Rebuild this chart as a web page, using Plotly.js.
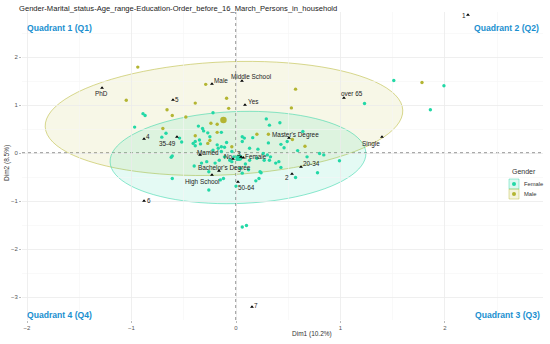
<!DOCTYPE html>
<html>
<head>
<meta charset="utf-8">
<script src="https://cdn.plot.ly/plotly-3.0.1.min.js"></script>
<style>html,body{margin:0;padding:0;background:#fff;}#chart{width:550px;height:344px;}</style>
</head>
<body>
<div id="chart"></div>
<script>
// ---- data ----
const titleText = "Gender-Marital_status-Age_range-Education-Order_before_16_March_Persons_in_household";
const groups = ["Female", "Male"];

const femaleX = [-0.89,-0.87,-0.97,-0.67,-0.54,-0.52,-0.71,-0.39,-0.35,-0.31,-0.22,-0.14,-0.25,-0.18,-0.14,-0.09,
  0.29,0.32,0.42,0.06,0.08,0.16,0.31,0.43,0.46,0.64,0.06,0.13,0.59,1.51,1.99,1.86,1.23,0.80,0.84,0.99,
  0.21,0.30,0.33,0.27,0.32,0.38,0.41,0.24,0.43,0.78,0.57,0.19,0.22,0.10,0.06,0.06,0.00,-0.62,-0.61,
  -0.39,-0.34,-0.40,-0.33,-0.28,-0.61,-0.26,-0.15,-0.12,-0.36,-0.32,-0.27,-0.22,-0.17,-0.14,-0.11,-0.04,
  -0.02,0.01,-0.06,-0.11,-0.16,-0.20,0.09,0.13,0.20,0.26,0.12,0.04,0.23,-0.26,-0.41,0.49,0.68,-0.04];
const femaleY = [0.82,0.78,0.54,0.41,0.31,0.23,0.33,0.24,0.27,0.46,0.84,0.43,0.34,0.17,0.13,0.22,
  0.71,0.58,0.63,0.34,0.31,0.32,0.21,0.18,0.11,0.45,0.24,0.10,0.05,1.51,1.40,0.90,1.03,-0.01,-0.04,-0.16,
  0.08,-0.04,-0.08,-0.15,-0.15,-0.21,-0.18,-0.41,-0.30,-0.41,-0.51,-0.58,-0.53,-1.51,-1.54,-0.42,-0.69,-0.09,-0.06,
  0.15,0.19,-0.27,-0.21,-0.18,-0.53,-0.77,-0.56,-0.53,0.56,0.51,0.42,0.06,0.10,0.03,0.12,0.03,
  -0.08,-0.13,-0.15,-0.08,-0.15,-0.21,-0.23,-0.15,-0.11,-0.01,-0.35,-0.32,-0.39,-0.39,0.20,0.24,-0.08,-0.18];

const maleX = [-0.94,-1.05,-0.29,-0.09,-0.07,-0.39,-0.66,-0.61,-0.70,-0.18,-0.24,-0.18,-0.39,-0.27,-0.04,
  0.57,0.53,0.20,0.31,0.54,0.66,1.78,-0.48,-0.25];
const maleY = [1.79,1.10,1.43,1.14,0.93,1.04,0.90,0.78,0.51,0.60,0.62,0.43,0.36,0.20,0.13,
  1.33,0.94,0.39,0.39,0.28,0.14,1.47,0.75,0.26];

const centroidX = [0.03, -0.12];
const centroidY = [-0.10, 0.69];

const catLabels = ["1","PhD","Male","Middle School","5","Yes","over 65","4","35-49","Master's Degree","Single",
  "Married","No","3","Female","Bachelor's Degree","High School","50-64","20-34","2","6","7"];
const catX = [2.22,-1.282,-0.230,0.057,-0.603,0.086,1.033,-0.880,-0.565,0.507,1.397,
  -0.344,-0.029,0.048,0.070,-0.163,-0.230,0.019,0.622,0.536,-0.880,0.153];
const catY = [2.875,1.354,1.4375,1.50,1.104,1.00,1.146,0.292,0.333,0.3125,0.333,
  -0.042,-0.125,-0.083,-0.098,-0.375,-0.458,-0.604,-0.292,-0.4375,-1.0,-3.208];

// confidence ellipses: centre x, centre y
const ellipseCX = [0.019, -0.115];
const ellipseCY = [-0.094, 0.72];

const quadrantLabels = ["Quadrant 1 (Q1)", "Quadrant 2 (Q2)", "Quadrant 3 (Q3)", "Quadrant 4 (Q4)"];
const xTitle = "Dim1 (10.2%)";
const yTitle = "Dim2 (8.5%)";

// ---- styles / positions ----
const colFemale = "#22d8a6", colMale = "#b3b532";
const groupColors = [colFemale, colMale];
const ellFill = ["rgba(30,217,164,0.12)", "rgba(195,195,70,0.13)"];
const ellLine = ["rgba(30,210,160,0.5)", "rgba(190,190,70,0.6)"];
// ellipse half-axes in pixels and tilt (deg)
const ellA = [128, 179], ellB = [46, 56.5], ellRot = [2.0, 2.7];
const pxPerX = 104.5, pxPerY = 48;

// label offsets (pixels) relative to each point
const labDX = [-4,-1,9,9.5,4,8,8,4,-9,7,-11,7.5,-4.5,-2,13,6,-10,8.5,10,-5,4.5,4.5];
const labDY = [0,-5,4,5,1,3.5,4,2,-6.5,3,-7,2.5,3,3.5,1,3,-7,-5,4,-3.5,1,1];

const FONT = "Liberation Sans, Arial, sans-serif";
const L = 22, R = 543, T = 12, B = 320;
const pxX = p => (p - L) / (R - L);
const pxY = p => (B - p) / (B - T);

function ellipsePath(i) {
  const th = ellRot[i] * Math.PI / 180;
  let d = "";
  const n = 90;
  for (let k = 0; k <= n; k++) {
    const t = 2 * Math.PI * k / n;
    const u = ellA[i] * Math.cos(t), v = ellB[i] * Math.sin(t);
    const ur = u * Math.cos(th) - v * Math.sin(th);
    const vr = u * Math.sin(th) + v * Math.cos(th);
    const x = ellipseCX[i] + ur / pxPerX, y = ellipseCY[i] + vr / pxPerY;
    d += (k === 0 ? "M" : "L") + x.toFixed(4) + "," + y.toFixed(4);
  }
  return d + "Z";
}

const traces = [
  {type:"scatter", mode:"markers", x:femaleX, y:femaleY, name:groups[0],
   marker:{color:colFemale, size:3.4}, hoverinfo:"x+y"},
  {type:"scatter", mode:"markers", x:maleX, y:maleY, name:groups[1],
   marker:{color:colMale, size:3.4}, hoverinfo:"x+y"},
  {type:"scatter", mode:"markers", x:centroidX, y:centroidY,
   marker:{color:groupColors, size:6.5}, hoverinfo:"x+y"},
  {type:"scatter", mode:"markers", x:catX, y:catY, text:catLabels,
   marker:{color:"#000", size:3.4, symbol:"triangle-up"}, hoverinfo:"text"}
];

const shapes = [];
[1, 0].forEach(i => shapes.push({type:"path", xref:"x", yref:"y", path:ellipsePath(i),
  fillcolor:ellFill[i], line:{color:ellLine[i], width:1}, layer:"below"}));
shapes.push({type:"line", xref:"x", yref:"paper", x0:0, x1:0, y0:0, y1:1,
  line:{color:"#555", width:1, dash:"dot"}, layer:"below"});
shapes.push({type:"line", xref:"paper", yref:"y", x0:0, x1:1, y0:0, y1:0,
  line:{color:"#555", width:1, dash:"dot"}, layer:"below"});

// manual legend
const legBoxes = [[509, 179, 519, 189], [509, 189, 519, 199]];
const legFill = ["rgba(30,217,164,0.15)", "rgba(195,195,70,0.18)"];
legBoxes.forEach((b, i) => {
  shapes.push({type:"rect", xref:"paper", yref:"paper", x0:pxX(b[0]), x1:pxX(b[2]), y0:pxY(b[3]), y1:pxY(b[1]),
    fillcolor:legFill[i], line:{color:ellLine[i], width:0.8}, layer:"above"});
  const cx = (b[0] + b[2]) / 2, cy = (b[1] + b[3]) / 2;
  shapes.push({type:"circle", xref:"paper", yref:"paper", x0:pxX(cx - 2), x1:pxX(cx + 2), y0:pxY(cy + 2), y1:pxY(cy - 2),
    fillcolor:groupColors[i], line:{width:0}, layer:"above"});
});

const annotations = [];
catLabels.forEach((t, i) => annotations.push({xref:"x", yref:"y", x:catX[i], y:catY[i], text:t,
  showarrow:false, xshift:labDX[i], yshift:labDY[i], xanchor:"center", yanchor:"middle",
  font:{family:FONT, size:6.4, color:"#222"}}));

const qPos = [[25, 28, "left"], [541, 28, "right"], [542, 315, "right"], [25, 315, "left"]];
quadrantLabels.forEach((t, i) => annotations.push({xref:"paper", yref:"paper",
  x:pxX(qPos[i][0]), y:pxY(qPos[i][1]), text:"<b>" + t + "</b>", showarrow:false,
  xanchor:qPos[i][2], yanchor:"middle", font:{family:FONT, size:8.6, color:"#1a8fcf"}}));

annotations.push({xref:"paper", yref:"paper", x:pxX(312), y:pxY(334), text:xTitle, showarrow:false,
  xanchor:"center", yanchor:"middle", font:{family:FONT, size:6.5, color:"#333"}});
annotations.push({xref:"paper", yref:"paper", x:pxX(7), y:pxY(163), text:yTitle, showarrow:false,
  textangle:-90, xanchor:"center", yanchor:"middle", font:{family:FONT, size:6.5, color:"#333"}});
annotations.push({xref:"paper", yref:"paper", x:pxX(510), y:pxY(172), text:"Gender", showarrow:false,
  xanchor:"left", yanchor:"middle", font:{family:FONT, size:7, color:"#333"}});
groups.forEach((g, i) => annotations.push({xref:"paper", yref:"paper", x:pxX(522), y:pxY(184 + 10 * i), text:g,
  showarrow:false, xanchor:"left", yanchor:"middle", font:{family:FONT, size:5.8, color:"#333"}}));

const axisCommon = {
  dtick:1, tick0:0, showgrid:true, gridcolor:"#ebebeb", gridwidth:0.8,
  minor:{dtick:0.5, showgrid:true, gridcolor:"#f5f5f5", gridwidth:0.6},
  zeroline:false, showline:false, ticks:"outside", ticklen:2, tickcolor:"#aaa", tickwidth:0.8,
  tickfont:{family:FONT, size:6, color:"#555"}
};

const layout = {
  width:550, height:344,
  margin:{l:L, r:550 - R, t:T, b:344 - B},
  paper_bgcolor:"#fff", plot_bgcolor:"#fff",
  showlegend:false,
  title:{text:titleText, xref:"container", yref:"container", x:19/550, xanchor:"left",
         y:1 - 8/344, yanchor:"middle", font:{family:FONT, size:7.6, color:"#222"}},
  xaxis:Object.assign({range:[-2.048, 2.938]}, axisCommon),
  yaxis:Object.assign({range:[-3.479, 2.9375]}, axisCommon),
  shapes:shapes, annotations:annotations,
  font:{family:FONT}
};

Plotly.newPlot("chart", traces, layout, {displayModeBar:false, staticPlot:true});
</script>
</body>
</html>
